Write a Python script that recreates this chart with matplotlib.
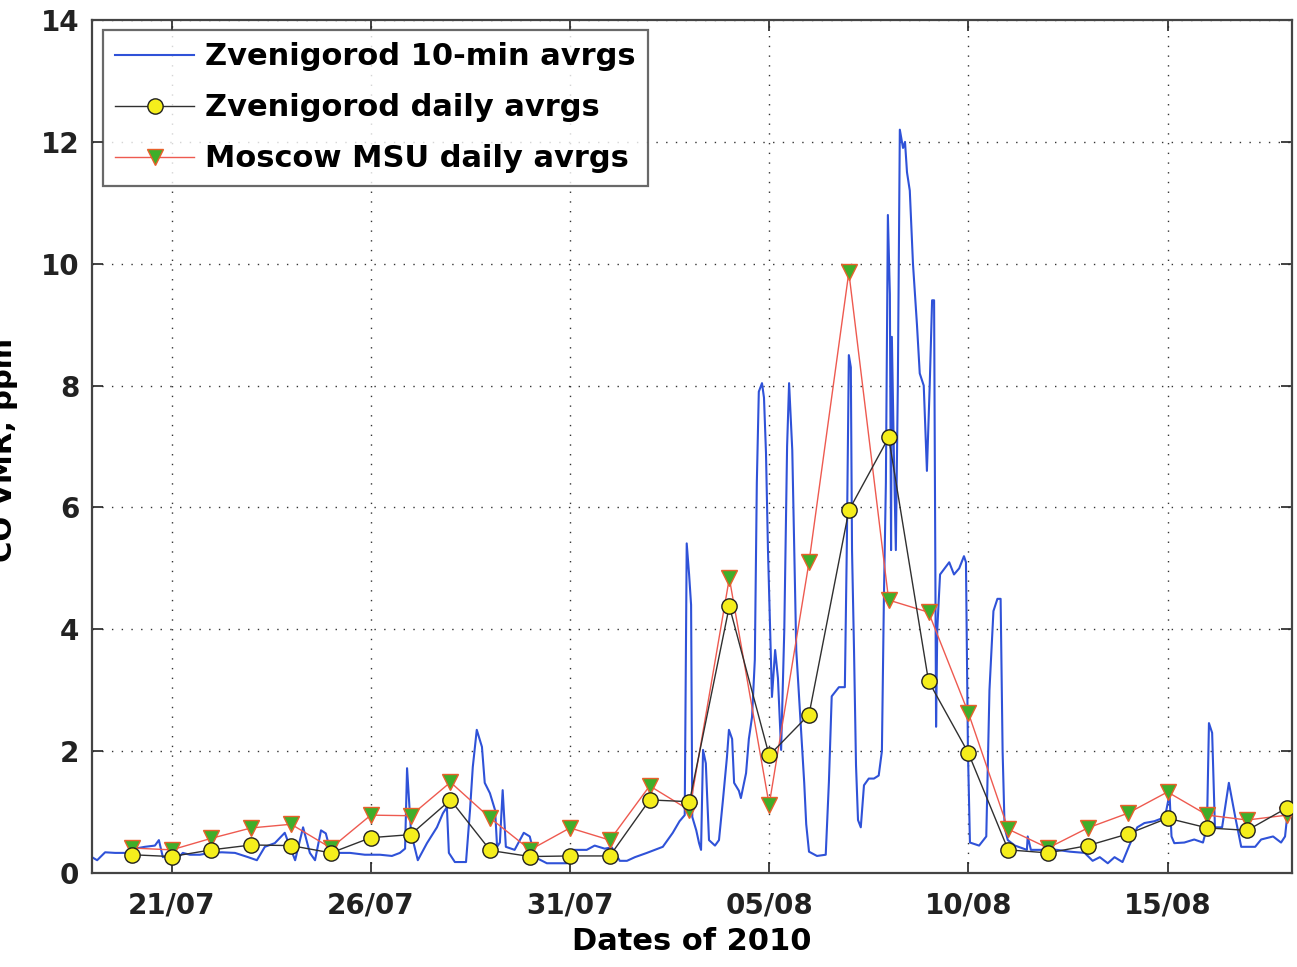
import numpy as np
import pandas as pd
import matplotlib
matplotlib.use("Agg")
import matplotlib.pyplot as plt
import matplotlib.dates as mdates

plt.rcParams['font.family'] = ['DejaVu Sans']

base = pd.Timestamp("2010-07-19")

# 10-min averages: time in days since 19/07 00:00, CO in ppm
z10_days = [0.00, 0.13, 0.33, 0.58, 0.83, 1.08, 1.33, 1.58, 1.68, 1.78, 1.93, 2.11, 2.28, 2.46,
            2.71, 2.96, 3.26, 3.59, 3.92, 4.14, 4.34, 4.59, 4.84, 4.97, 5.10, 5.30, 5.47, 5.60,
            5.75, 5.87, 5.97, 6.10, 6.48, 6.85, 7.23, 7.53, 7.73, 7.86, 7.91, 7.96, 8.01, 8.18,
            8.41, 8.66, 8.81, 8.91, 8.96, 9.11, 9.39, 9.49, 9.56, 9.66, 9.79, 9.86, 9.99, 10.12,
            10.17, 10.24, 10.31, 10.39, 10.61, 10.84, 10.99, 11.12, 11.42, 11.92, 12.07, 12.42,
            12.62, 12.87, 13.05, 13.25, 13.43, 13.63, 13.93, 14.33, 14.58, 14.75, 14.88, 14.93,
            14.99, 15.04, 15.07, 15.17, 15.24, 15.29, 15.34, 15.41, 15.44, 15.49, 15.64, 15.74,
            15.84, 15.94, 15.99, 16.07, 16.12, 16.24, 16.29, 16.42, 16.49, 16.57, 16.64, 16.69,
            16.74, 16.82, 16.87, 16.92, 16.97, 17.07, 17.15, 17.22, 17.30, 17.38, 17.45, 17.50,
            17.58, 17.68, 17.78, 17.88, 17.93, 18.00, 18.20, 18.42, 18.50, 18.57, 18.75, 18.90,
            18.95, 19.00, 19.05, 19.08, 19.13, 19.18, 19.23, 19.30, 19.38, 19.50, 19.63, 19.75,
            19.83, 19.88, 19.93, 19.98, 20.03, 20.06, 20.08, 20.13, 20.18, 20.23, 20.28, 20.36,
            20.41, 20.46, 20.53, 20.61, 20.71, 20.78, 20.88, 20.96, 21.03, 21.09, 21.14, 21.19,
            21.22, 21.29, 21.52, 21.64, 21.77, 21.89, 21.94, 21.99, 22.04, 22.27, 22.45, 22.53,
            22.63, 22.73, 22.81, 22.86, 22.91, 22.99, 23.17, 23.47, 23.49, 23.57, 23.92, 24.22,
            24.55, 24.92, 25.12, 25.30, 25.50, 25.67, 25.87, 26.04, 26.24, 26.42, 26.67, 26.87,
            26.97, 27.05, 27.10, 27.17, 27.42, 27.67, 27.89, 27.99, 28.04, 28.12, 28.19, 28.37,
            28.54, 28.70, 28.85, 29.20, 29.35, 29.65, 29.85, 29.95, 30.02]
z10_vals = [0.26, 0.21, 0.34, 0.33, 0.33, 0.40, 0.43, 0.45, 0.54, 0.26, 0.28, 0.21, 0.33, 0.30,
            0.30, 0.33, 0.34, 0.33, 0.26, 0.21, 0.43, 0.49, 0.66, 0.43, 0.21, 0.75, 0.33, 0.21,
            0.70, 0.65, 0.40, 0.33, 0.33, 0.30, 0.30, 0.28, 0.33, 0.40, 1.72, 1.20, 0.66, 0.21,
            0.49, 0.75, 0.98, 1.08, 0.33, 0.18, 0.18, 1.03, 1.74, 2.35, 2.07, 1.48, 1.31, 1.03,
            0.43, 0.50, 1.36, 0.43, 0.38, 0.66, 0.60, 0.26, 0.16, 0.16, 0.38, 0.38,
            0.45, 0.40, 0.42, 0.20, 0.20, 0.26, 0.33, 0.43, 0.66, 0.85, 0.95, 5.41,
            4.90, 4.40, 0.92, 0.70, 0.49, 0.38, 2.02, 1.80, 1.31, 0.54, 0.45, 0.54,
            1.20, 1.90, 2.35, 2.20, 1.48, 1.35, 1.23, 1.64, 2.20, 2.56, 3.50, 6.40,
            7.90, 8.04, 7.80, 6.90, 5.30, 2.89, 3.66, 3.20, 2.02, 4.00, 7.00, 8.04,
            6.94, 3.66, 2.56, 1.48, 0.80, 0.35, 0.28, 0.30, 1.50, 2.90, 3.05, 3.05,
            5.40, 8.50, 8.30, 5.30, 3.66, 1.77, 0.87, 0.75, 1.44, 1.55, 1.55, 1.60,
            2.00, 4.50, 6.40, 10.80, 9.50, 5.30, 8.80, 6.90, 5.30, 8.00, 12.20, 11.90,
            12.00, 11.50, 11.20, 10.00, 9.00, 8.20, 8.00, 6.60, 8.00, 9.40, 9.40, 2.40,
            4.00, 4.90, 5.10, 4.90, 5.00, 5.20, 5.10, 2.00, 0.50, 0.45, 0.60, 3.00,
            4.30, 4.50, 4.50, 2.00, 0.75, 0.54, 0.45, 0.38, 0.60, 0.38, 0.38, 0.38,
            0.35, 0.33, 0.20, 0.26, 0.16, 0.26, 0.18, 0.45, 0.75, 0.82, 0.85, 0.90,
            1.03, 1.30, 0.60, 0.49, 0.50, 0.55, 0.50, 0.75, 2.46, 2.30, 0.75, 0.75,
            1.48, 0.92, 0.43, 0.43, 0.55, 0.60, 0.50, 0.60, 1.03]

# daily averages, 20/07 .. 18/08
daily_dates = pd.date_range("2010-07-20", "2010-08-18", freq="D")
zven_daily = [0.30, 0.27, 0.38, 0.46, 0.45, 0.33, 0.58, 0.63, 1.20, 0.37, 0.27, 0.28, 0.28, 1.20,
              1.17, 4.38, 1.93, 2.60, 5.95, 7.15, 3.15, 1.97, 0.38, 0.33, 0.45, 0.64, 0.90, 0.74,
              0.70, 1.07]
msu_daily = [0.41, 0.38, 0.57, 0.74, 0.80, 0.41, 0.95, 0.94, 1.49, 0.90, 0.38, 0.74, 0.54, 1.43,
             1.03, 4.84, 1.12, 5.10, 9.86, 4.48, 4.28, 2.63, 0.72, 0.41, 0.74, 0.98, 1.33, 0.95,
             0.87, 0.95]

tick_dates = ["2010-07-21", "2010-07-26", "2010-07-31", "2010-08-05", "2010-08-10", "2010-08-15"]
y_ticks = [0, 2, 4, 6, 8, 10, 12, 14]

z10_times = base + pd.to_timedelta(z10_days, unit="D")

fig = plt.figure(figsize=(12.97, 9.67), dpi=100)
ax = fig.add_axes([0.0709, 0.0972, 0.9251, 0.8821])

ax.plot(z10_times, z10_vals, color="#2f52d8", lw=1.5, label="Zvenigorod 10-min avrgs", zorder=2)
ax.plot(daily_dates, zven_daily, color="#303030", lw=1.0, marker="o", ms=11,
        mfc="#f5ee1c", mec="#202020", mew=1.0, label="Zvenigorod daily avrgs", zorder=4)
ax.plot(daily_dates, msu_daily, color="#ee5a50", lw=1.0, marker="v", ms=12,
        mfc="#3fae2a", mec="#e8602a", mew=1.0, label="Moscow MSU daily avrgs", zorder=3)

ax.set_xlim(base, base + pd.Timedelta(days=30.12))
ax.set_ylim(0, 14)
ax.set_yticks(y_ticks)
ax.set_xticks(pd.to_datetime(tick_dates))
ax.xaxis.set_major_formatter(mdates.DateFormatter("%d/%m"))

ax.grid(True, color="#333333", linestyle=(0, (1, 6)), linewidth=1.0)
ax.tick_params(direction="in", length=8, width=1.2, top=True, right=True,
               labelsize=20, colors="#222222")
ax.tick_params(axis="x", pad=13)
ax.tick_params(axis="y", pad=9)
for lab in ax.get_xticklabels() + ax.get_yticklabels():
    lab.set_fontweight("bold")
for sp in ax.spines.values():
    sp.set_linewidth(1.6)
    sp.set_color("#444444")

ax.set_xlabel("Dates of 2010", fontsize=22, fontweight="bold", labelpad=6)
fig.text(0.003, 0.535, "CO VMR, ppm", rotation=90, ha="center", va="center",
         fontsize=21, fontweight="bold")

leg = ax.legend(loc="upper left", bbox_to_anchor=(0.009, 0.988), fontsize=22, handlelength=2.6,
                frameon=True, fancybox=False, edgecolor="#444444", borderpad=0.4,
                labelspacing=0.72, handletextpad=0.35, borderaxespad=0.0)
leg.get_frame().set_linewidth(1.6)
for t in leg.get_texts():
    t.set_fontweight("bold")

fig.savefig("out.png", dpi=100)
